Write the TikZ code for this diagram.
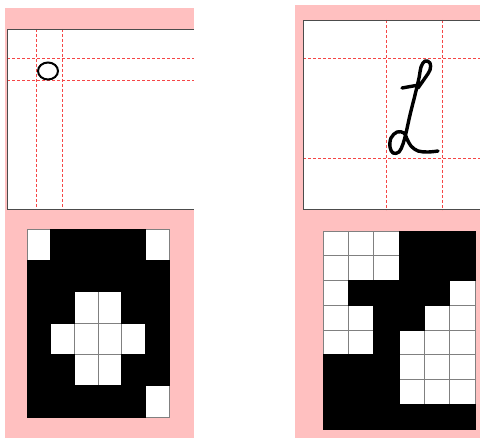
\documentclass[tikz,border=0pt]{standalone}
\definecolor{pinkbg}{RGB}{255,192,192}
\definecolor{gridred}{RGB}{245,70,70}
\begin{document}
\begin{tikzpicture}[x=1pt,y=-1pt,
  guide/.style={draw=gridred, dash pattern=on 3pt off 2pt, line width=1.1pt},
  frame/.style={draw=black!70, line width=1pt},
  ink/.style={line width=3.4pt, line cap=round, line join=round},
  whitecell/.style={fill=white, draw=gray, line width=0.8pt},
  blackcell/.style={fill=black, draw=black, line width=0.8pt}]
\useasboundingbox (0,0) rectangle (480,438);
% panels
\fill[pinkbg] (5,8) rectangle (194,438);
\fill[pinkbg] (295,5) rectangle (480,438);
% left drawing box
\fill[white] (7,29) rectangle (194,210);
\draw[guide] (36.5,29) -- (36.5,210) (62.5,29) -- (62.5,210)
  (7,58.5) -- (194,58.5) (7,80.5) -- (194,80.5);
\draw[frame] (194,29.5) -- (7.5,29.5) -- (7.5,209.5) -- (194,209.5);
\draw[line width=2pt] (48,71) ellipse [x radius=10pt, y radius=8.5pt];
% right drawing box
\fill[white] (303,20) rectangle (480,210);
\draw[guide] (386.5,20) -- (386.5,210) (442.5,20) -- (442.5,210)
  (303,58.5) -- (480,58.5) (303,158.5) -- (480,158.5);
\draw[frame] (480,20.5) -- (303.5,20.5) -- (303.5,209.5) -- (480,209.5);
\draw[ink] plot[smooth, tension=0.6] coordinates {(438,151) (428,152) (418,151) (411,146) (407,139) (404,133) (397,132) (391,138) (390,147) (393,153) (399,152) (403,144) (406,133) (410,115) (415,95) (419,78) (421,67) (425,61) (430,63) (430,70) (425,78) (418,88)};
\draw[ink] (402,88) -- (416,85.5);
% left grid
\foreach \i in {0,...,5} \foreach \j in {0,...,5}
  \draw[whitecell] ({27+\i*23.667},{229+\j*31.333}) rectangle ++(23.667,31.333);
\foreach \i/\j in {1/0,2/0,3/0,4/0, 0/1,1/1,2/1,3/1,4/1,5/1, 0/2,1/2,4/2,5/2, 0/3,5/3, 0/4,1/4,4/4,5/4, 0/5,1/5,2/5,3/5,4/5}
  \draw[blackcell] ({27+\i*23.667},{229+\j*31.333}) rectangle ++(23.667,31.333);
% right grid
\foreach \i in {0,...,5} \foreach \j in {0,...,7}
  \draw[whitecell] ({323+\i*25.333},{231+\j*24.75}) rectangle ++(25.333,24.75);
\foreach \i/\j in {3/0,4/0,5/0, 3/1,4/1,5/1, 1/2,2/2,3/2,4/2, 2/3,3/3, 2/4, 0/5,1/5,2/5, 0/6,1/6,2/6, 0/7,1/7,2/7,3/7,4/7,5/7}
  \draw[blackcell] ({323+\i*25.333},{231+\j*24.75}) rectangle ++(25.333,24.75);
\end{tikzpicture}
\end{document}
